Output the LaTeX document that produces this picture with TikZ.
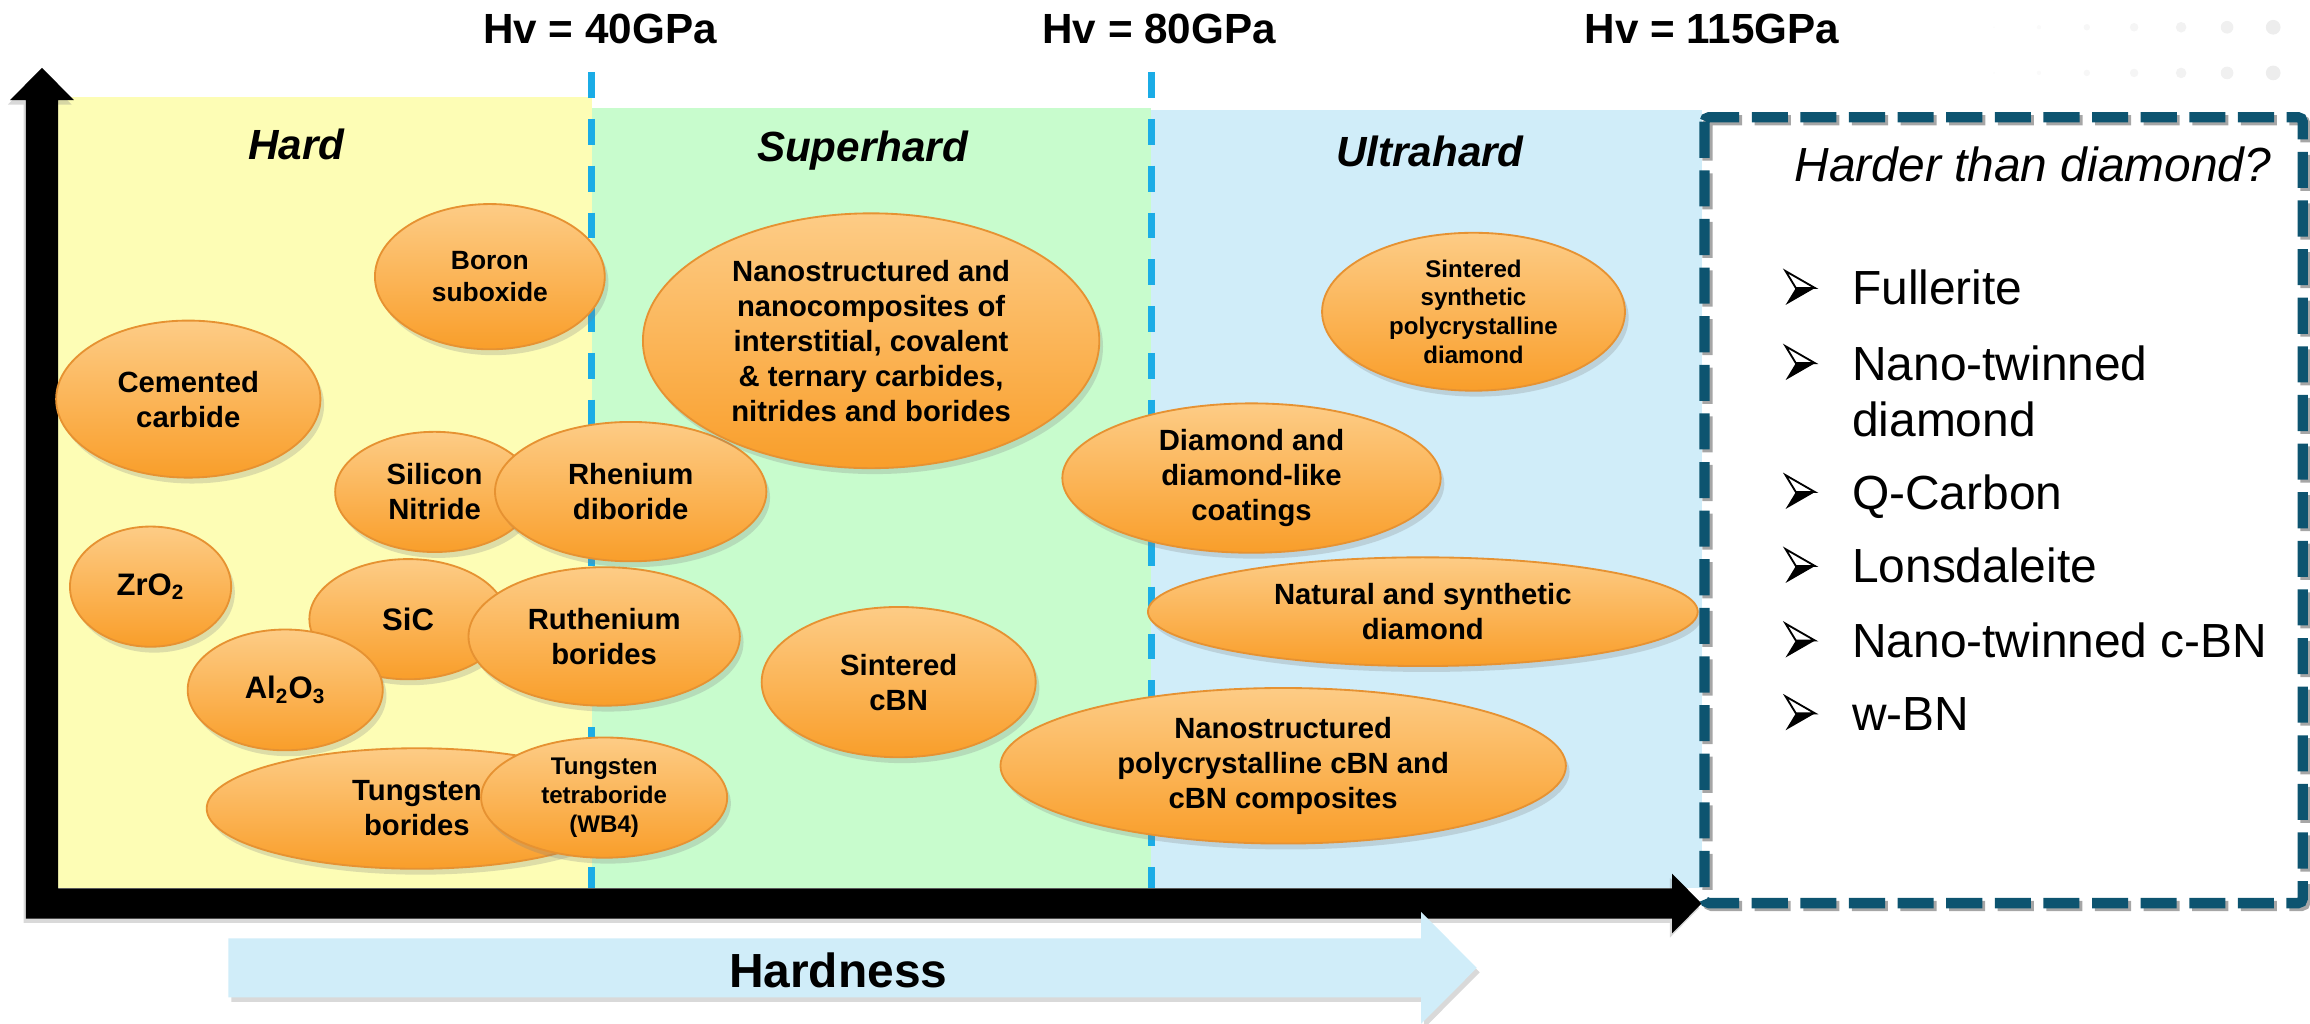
\documentclass[tikz,border=0pt]{standalone}
\usepackage{fontspec}
\setmainfont{Liberation Sans}
\usetikzlibrary{shapes.geometric, shadows}

\definecolor{hardbg}{RGB}{253,253,181}
\definecolor{superbg}{RGB}{200,252,205}
\definecolor{ultrabg}{RGB}{208,237,249}
\definecolor{limitblue}{RGB}{27,172,230}
\definecolor{boxteal}{RGB}{13,84,112}
\definecolor{blobtop}{RGB}{253,204,134}
\definecolor{blobbot}{RGB}{249,158,42}
\definecolor{blobline}{RGB}{230,146,50}

\begin{document}
\begin{tikzpicture}[x=0.2mm, y=-0.2mm,
        blob/.style = {ellipse, draw=blobline, line width=0.25mm, top color=blobtop, bottom color=blobbot,
            inner sep=0pt, align=center, font=\bfseries\fontsize{11.3}{13.5}\selectfont,
            drop shadow={shadow xshift=0.5mm, shadow yshift=-0.8mm, opacity=0.25}},
        rad/.style 2 args = {minimum width=#1*0.4mm, minimum height=#2*0.4mm},
        small/.style = {font=\bfseries\fontsize{9.3}{11.1}\selectfont},
        chem/.style = {font=\bfseries\fontsize{12}{14}\selectfont},
        hv/.style = {anchor=base, font=\bfseries\fontsize{16.3}{19}\selectfont},
        zone/.style = {anchor=base, font=\bfseries\itshape\fontsize{16.3}{19}\selectfont},
        limit/.style = {draw=limitblue, line width=0.9mm, dash pattern=on 3.5mm off 2.85mm},
        item/.style = {anchor=base west, font=\fontsize{18.5}{22}\selectfont},
        bul/.pic = {
            \fill (0,0) -- (-20,11.5) -- (-13,0) -- cycle;
            \draw[fill=white, line width=0.25mm] (0,0) -- (-20,-11.5) -- (-13,0) -- cycle;
        },
    ]
    \useasboundingbox (0,0) rectangle (1568,695);

    % faint dots
    \foreach \x [count=\i] in {1353.5,1384,1416.5,1448.6,1480.5,1511.7,1543}
        \foreach \y in {18.5,49.5}
            \fill[black!\i] (\x,\y) circle [radius=0.1+0.7*\i];

    % zones
    \fill[hardbg] (39.4,66) rectangle (401.5,603);
    \fill[superbg] (401.5,73) rectangle (781.5,603);
    \fill[ultrabg] (781.5,75) rectangle (1155,603);
    \foreach \x in {401.5,781.5}
        \draw[limit] (\x,49) -- (\x,603);

    \node[hv] (hv40) at (407.3,29.4) {Hv = 40GPa};
    \node[hv] (hv80) at (786.8,29.4) {Hv = 80GPa};
    \node[hv] (hv115) at (1162,29.4) {Hv = 115GPa};

    \node[zone] (hard) at (201.2,108.6) {Hard};
    \node[zone] (super) at (585.5,109.7) {Superhard};
    \node[zone] (ultra) at (970.6,113) {Ultrahard};

    % axes
    \fill[black, drop shadow={shadow xshift=-0.3mm, shadow yshift=-0.6mm, opacity=0.3}]
        (17.6,623.5) -- (17.6,68) -- (6.8,68) -- (28.5,46) -- (50.2,68) -- (39.4,68) -- (39.4,603)
        -- (1135,603) -- (1135,593) -- (1155,613.3) -- (1135,633.5) -- (1135,623.5) -- cycle;

    % hardness arrow
    \fill[ultrabg, drop shadow={shadow xshift=0.4mm, shadow yshift=-0.6mm, opacity=0.3}]
        (155,637) -- (964.6,637) -- (964.6,619) -- (1002.4,657) -- (964.6,695) -- (964.6,677) -- (155,677) -- cycle;
    \node[anchor=base, font=\bfseries\fontsize{18.5}{22}\selectfont] (hardness) at (569,670) {Hardness};

    % materials
    \node[blob, rad={89.7}{53.3}] (cem) at (127.8,270.9) {Cemented\\carbide};
    \node[blob, rad={78}{49.3}, font=\bfseries\fontsize{10.2}{12.2}\selectfont] (boron) at (332.5,187.8) {Boron\\suboxide};
    \node[blob, rad={67.5}{40.8}] (sin) at (295,333.9) {Silicon\\Nitride};
    \node[blob, rad={92.1}{47.3}] (reb) at (428.1,333.7) {Rhenium\\diboride};
    \node[blob, rad={54.7}{40.8}, chem] (zro) at (102.2,398.2) {ZrO\textsubscript{2}};
    \node[blob, rad={67}{40.8}, chem] (sic) at (277,420.3) {SiC};
    \node[blob, rad={92.1}{47}] (rub) at (410.1,432) {Ruthenium\\borides};
    \node[blob, rad={66.2}{41}, chem] (alo) at (193.6,468.3) {Al\textsubscript{2}O\textsubscript{3}};
    \node[blob, rad={142.7}{40.9}] (wb) at (283,548.8) {Tungsten\\borides};
    \node[blob, rad={83.5}{40.8}, small] (wb4) at (410.1,541.4) {Tungsten\\tetraboride\\(WB4)};

    \node[blob, rad={154.9}{86.5}] (nano) at (591.3,231.3)
        {Nanostructured and\\nanocomposites of\\interstitial, covalent\\\& ternary carbides,\\nitrides and borides};
    \node[blob, rad={93}{51}] (scbn) at (610,463) {Sintered\\cBN};

    \node[blob, rad={102.8}{53.6}, small] (pcd) at (1000.2,211.6) {Sintered\\synthetic\\polycrystalline\\diamond};
    \node[blob, rad={128.4}{50.7}] (dlc) at (849.5,324.5) {Diamond and\\diamond-like\\coatings};
    \node[blob, rad={186.6}{36.9}] (nat) at (965.8,415.2) {Natural and synthetic\\diamond};
    \node[blob, rad={191.9}{52.8}] (pcbn) at (871,519.8) {Nanostructured\\polycrystalline cBN and\\cBN composites};

    % harder than diamond
    \draw[black!35, line width=1.4mm, dash pattern=on 4.9mm off 1.7mm, rounded corners=0.6mm] (1159,81.6) rectangle (1565,615);
    \draw[boxteal, line width=1.4mm, dash pattern=on 4.9mm off 1.7mm, rounded corners=0.6mm] (1157,79.6) rectangle (1563,613);
    \node[anchor=base west, font=\itshape\fontsize{18.5}{22}\selectfont] (quest) at (1212,123.4) {Harder than diamond?};

    \foreach \y/\txt [count=\i] in {207/Fullerite, 258/Nano-twinned, 345.5/Q-Carbon, 395.7/Lonsdaleite,
            446.3/Nano-twinned c-BN, 495.7/w-BN}{
        \pic at (1232,{\y-11.5}) {bul};
        \node[item] (item\i) at (1251,\y) {\txt};
    }
    \node[item] (item2b) at (1251,296) {diamond};
\end{tikzpicture}
\end{document}
